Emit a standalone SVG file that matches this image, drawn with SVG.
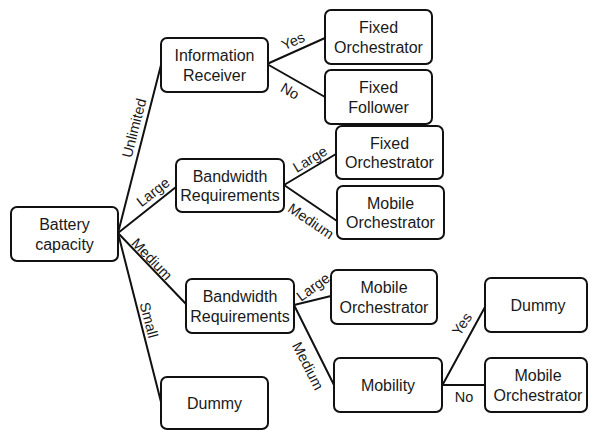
<svg xmlns="http://www.w3.org/2000/svg" width="589" height="430" viewBox="0 0 589 430">
  <style>
    .box { fill: #ffffff; stroke: #111111; stroke-width: 2; }
    .node text { font-family: "Liberation Sans", Arial, sans-serif; font-size: 16px; fill: #1a1a1a; text-anchor: middle; }
    .edge { stroke: #111111; stroke-width: 2; fill: none; stroke-linecap: round; }
    .lbl { font-family: "Liberation Sans", Arial, sans-serif; font-size: 14.5px; fill: #1a1a1a; text-anchor: middle; }
  </style>
  <rect width="589" height="430" fill="#ffffff"/>

  <!-- connectors -->
  <g id="connectors">
    <line class="edge" x1="118" y1="233" x2="161" y2="65"/>
    <line class="edge" x1="118" y1="233" x2="176" y2="187"/>
    <line class="edge" x1="118" y1="233" x2="186" y2="304"/>
    <line class="edge" x1="118" y1="233" x2="161" y2="402"/>
    <line class="edge" x1="267" y1="64" x2="325" y2="38"/>
    <line class="edge" x1="267" y1="64" x2="325" y2="97"/>
    <line class="edge" x1="284" y1="185" x2="336" y2="154"/>
    <line class="edge" x1="284" y1="185" x2="337" y2="221"/>
    <line class="edge" x1="294" y1="305" x2="331" y2="296"/>
    <line class="edge" x1="294" y1="305" x2="334" y2="385"/>
    <line class="edge" x1="443" y1="384" x2="485" y2="307"/>
    <line class="edge" x1="443" y1="385" x2="485" y2="385"/>

    <text class="lbl" transform="translate(134,128) rotate(-75.6)" dy="0.35em">Unlimited</text>
    <text class="lbl" transform="translate(153,192) rotate(-38)" dy="0.35em">Large</text>
    <text class="lbl" transform="translate(152,259) rotate(46)" dy="0.35em">Medium</text>
    <text class="lbl" transform="translate(149,320) rotate(75.7)" dy="0.35em">Small</text>
    <text class="lbl" transform="translate(293,41) rotate(-24)" dy="0.35em">Yes</text>
    <text class="lbl" transform="translate(290,91) rotate(30)" dy="0.35em">No</text>
    <text class="lbl" transform="translate(310,159) rotate(-31)" dy="0.35em">Large</text>
    <text class="lbl" transform="translate(311,221) rotate(34)" dy="0.35em">Medium</text>
    <text class="lbl" transform="translate(313,287) rotate(-36)" dy="0.35em">Large</text>
    <text class="lbl" transform="translate(308,366) rotate(63)" dy="0.35em">Medium</text>
    <text class="lbl" transform="translate(462,324) rotate(-57)" dy="0.35em">Yes</text>
    <text class="lbl" transform="translate(464,397)" dy="0.35em">No</text>
  </g>

  <!-- nodes -->
  <g id="battery" class="node">
    <rect class="box" x="11" y="207" width="107" height="54" rx="6"/>
    <text x="64.5" y="230">Battery</text>
    <text x="64.5" y="249.5">capacity</text>
  </g>
  <g id="info-receiver" class="node">
    <rect class="box" x="161" y="38" width="107" height="54" rx="6"/>
    <text x="214.5" y="61">Information</text>
    <text x="214.5" y="80.5">Receiver</text>
  </g>
  <g id="bandwidth-1" class="node">
    <rect class="box" x="176" y="159" width="108" height="53" rx="6"/>
    <text x="230" y="181.5">Bandwidth</text>
    <text x="230" y="201">Requirements</text>
  </g>
  <g id="bandwidth-2" class="node">
    <rect class="box" x="186" y="279" width="108" height="54" rx="6"/>
    <text x="240" y="302">Bandwidth</text>
    <text x="240" y="321.5">Requirements</text>
  </g>
  <g id="dummy-small" class="node">
    <rect class="box" x="161" y="377" width="107" height="52" rx="6"/>
    <text x="214.5" y="408.5">Dummy</text>
  </g>
  <g id="fixed-orchestrator-1" class="node">
    <rect class="box" x="325" y="10" width="107" height="54" rx="6"/>
    <text x="378.5" y="33">Fixed</text>
    <text x="378.5" y="52.5">Orchestrator</text>
  </g>
  <g id="fixed-follower" class="node">
    <rect class="box" x="325" y="70" width="107" height="54" rx="6"/>
    <text x="378.5" y="93">Fixed</text>
    <text x="378.5" y="112.5">Follower</text>
  </g>
  <g id="fixed-orchestrator-2" class="node">
    <rect class="box" x="336" y="126" width="107" height="53" rx="6"/>
    <text x="389.5" y="148.5">Fixed</text>
    <text x="389.5" y="168">Orchestrator</text>
  </g>
  <g id="mobile-orchestrator-1" class="node">
    <rect class="box" x="337" y="186" width="107" height="53" rx="6"/>
    <text x="390.5" y="208.5">Mobile</text>
    <text x="390.5" y="228">Orchestrator</text>
  </g>
  <g id="mobile-orchestrator-2" class="node">
    <rect class="box" x="331" y="270" width="106" height="54" rx="6"/>
    <text x="384" y="293">Mobile</text>
    <text x="384" y="312.5">Orchestrator</text>
  </g>
  <g id="mobility" class="node">
    <rect class="box" x="334" y="358" width="108" height="54" rx="6"/>
    <text x="388" y="391">Mobility</text>
  </g>
  <g id="dummy-mobile" class="node">
    <rect class="box" x="485" y="278" width="102" height="54" rx="6"/>
    <text x="538" y="311">Dummy</text>
  </g>
  <g id="mobile-orchestrator-3" class="node">
    <rect class="box" x="485" y="358" width="102" height="54" rx="6"/>
    <text x="538" y="381">Mobile</text>
    <text x="538" y="400.5">Orchestrator</text>
  </g>
</svg>
